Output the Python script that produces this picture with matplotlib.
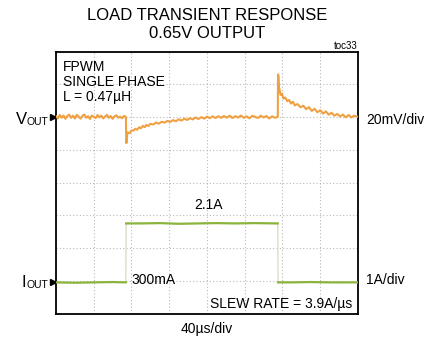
import numpy as np
import matplotlib
matplotlib.use("Agg")
import matplotlib.pyplot as plt
from matplotlib.ticker import MultipleLocator

plt.rcParams['font.family'] = ['Liberation Sans', 'DejaVu Sans']

# Scope settings
TIME_PER_DIV = 40   # us/div
NUM_DIV = 8
VOUT_MV_PER_DIV = 20
VOUT_REF_DIV = 6.0   # position of Vout marker (divs from bottom)
IOUT_A_PER_DIV = 1
IOUT_ZERO_DIV = 0.65

VOUT_COLOR = '#F0A040'
IOUT_COLOR = '#8BB43C'
IOUT_EDGE_COLOR = '#D2DDBE'

# Vout trace: time (us), deviation (mV)
vout_t = [0, 2, 4, 6, 8, 10, 12, 14, 16, 18, 20, 22, 24, 26, 28, 30, 32, 34, 36, 38,
          40, 42, 44, 46, 48, 50, 52, 54, 56, 58, 60, 62, 64, 66, 68, 70, 72, 74,
          74.5, 75, 75.5, 76, 78, 80, 82, 84, 86, 88, 90, 92, 94, 96, 98, 100,
          103, 106, 109, 112, 115, 118, 121, 124, 127, 130, 133, 136, 139, 142,
          145, 148, 151, 154, 157, 160, 163, 166, 169, 172, 175, 178, 181, 184,
          187, 190, 193, 196, 199, 202, 205, 208, 211, 214, 217, 220, 223, 226,
          229, 232, 235,
          235.3, 235.8, 236.3, 237, 238, 239.5, 241, 243, 245, 247, 249, 251, 253,
          256, 259, 262, 265, 268, 271, 274, 277, 280, 283, 286, 289, 292, 295,
          298, 301, 304, 307, 310, 313, 316, 320]
vout_mv = [0.5, -0.8, 1.2, -0.4, 0.9, -1.1, 0.6, 1.4, -0.5, 0.8, -0.9, 1.3, 0.2, -1.0,
           0.7, 1.5, -0.4, 0.5, -1.2, 0.9, 0.1, -0.7, 1.2, -0.2, 0.8, -0.9, 0.3, 1.3,
           -0.5, 0.6, -1.1, 0.4, 1.0, -0.4, 0.2, -0.8, 0.6, 0.2,
           -16.0, -15.0, -10.0, -9.4, -9.9, -8.2, -8.3, -7.2, -7.8, -6.3, -6.9, -5.4,
           -6.2, -4.8, -5.5, -4.2,
           -4.6, -3.4, -4.1, -2.9, -3.4, -2.4, -3.0, -1.9, -2.6, -1.4, -2.2, -1.0,
           -1.8, -0.7, -1.5, -0.3, -1.2, -0.1, -1.0, 0.2, -0.7, 0.4, -0.6, 0.5,
           -0.5, 0.6, -0.4, 0.8, -0.6, 0.5, -0.3, 0.9, -0.5, 0.4, -0.8, 0.7, 0.1,
           -0.6, 0.8, -0.3, 0.6, -0.9, 0.4, -0.5, 0.1,
           26.0, 25.0, 18.0, 16.5, 13.5, 14.2, 11.2, 11.9, 9.6, 10.4, 8.2, 9.3, 7.1,
           7.9, 5.9, 6.9, 4.8, 6.0, 3.7, 5.0, 2.9, 4.1, 2.1, 3.4, 1.4, 2.6, 0.8,
           1.9, 0.3, 1.5, -0.2, 1.2, -0.3, 0.8, 0.1]

# Iout trace: time (us), current (A)
iout_t = [0, 20, 40, 60, 74, 74.3, 90, 110, 130, 150, 170, 190, 210, 235,
          235.3, 250, 270, 290, 320]
iout_a = [0.30, 0.29, 0.30, 0.31, 0.30, 2.10, 2.10, 2.11, 2.09, 2.10, 2.11, 2.10,
          2.11, 2.10, 0.30, 0.30, 0.31, 0.30, 0.30]

W, H = 435, 340
fig = plt.figure(figsize=(W / 100, H / 100), dpi=100)
ax = fig.add_axes([56 / W, 1 - 313.5 / H, 302 / W, 262 / H])


def ftext(px, py, s, **kw):
    fig.text(px / W, 1 - py / H, s, va='baseline', **kw)


ax.set_xlim(0, TIME_PER_DIV * NUM_DIV)
ax.set_ylim(0, NUM_DIV)
ax.xaxis.set_major_locator(MultipleLocator(TIME_PER_DIV))
ax.yaxis.set_major_locator(MultipleLocator(1))
ax.grid(True, linestyle=(0, (1, 2)), color='#b8b8b8', linewidth=0.8)
ax.tick_params(which='both', length=0, labelleft=False, labelbottom=False)
for sp in ax.spines.values():
    sp.set_linewidth(1.3)
    sp.set_color('black')

# Vout
vt = np.array(vout_t)
vy = VOUT_REF_DIV + np.array(vout_mv) / VOUT_MV_PER_DIV
ax.plot(vt, vy, color=VOUT_COLOR, linewidth=1.5, zorder=3)

# Iout: faint edges, solid levels
it = np.array(iout_t)
iy = IOUT_ZERO_DIV + np.array(iout_a) / IOUT_A_PER_DIV
ax.plot(it, iy, color=IOUT_EDGE_COLOR, linewidth=0.9, zorder=3)
edges = np.where(np.abs(np.diff(iout_a)) > 1)[0]
starts = np.concatenate(([0], edges + 1))
ends = np.concatenate((edges + 1, [len(it)]))
for s, e in zip(starts, ends):
    ax.plot(it[s:e], iy[s:e], color=IOUT_COLOR, linewidth=1.6, zorder=4)

# channel markers
tr = ax.get_yaxis_transform()
ax.plot([-0.011, -0.011], [VOUT_REF_DIV, IOUT_ZERO_DIV + iout_a[0]], linestyle='none',
        marker='>', markersize=5, color='black', transform=tr, clip_on=False)

# titles
ftext(207, 20.5, 'LOAD TRANSIENT RESPONSE', ha='center', fontsize=12)
ftext(207, 37.5, '0.65V OUTPUT', ha='center', fontsize=12)
ftext(358, 49, 'toc33', ha='right', fontsize=7)

ftext(63, 71, 'FPWM', fontsize=10)
ftext(63, 86, 'SINGLE PHASE', fontsize=10)
ftext(63, 100.5, 'L = 0.47µH', fontsize=10)

ftext(16, 124.5, 'V', fontsize=12)
ftext(48, 125, 'OUT', ha='right', fontsize=7.5)
ftext(22, 287, 'I', fontsize=12)
ftext(48, 287.5, 'OUT', ha='right', fontsize=7.5)

ftext(366, 124, '20mV/div', fontsize=10)
ftext(366, 284, '1A/div', fontsize=10)
ftext(194, 209, '2.1A', fontsize=10)
ftext(131, 284, '300mA', fontsize=10)
ftext(352, 308, 'SLEW RATE = 3.9A/µs', ha='right', fontsize=10)
ftext(207, 333, '40µs/div', ha='center', fontsize=10)

fig.savefig('out.png', dpi=100)
